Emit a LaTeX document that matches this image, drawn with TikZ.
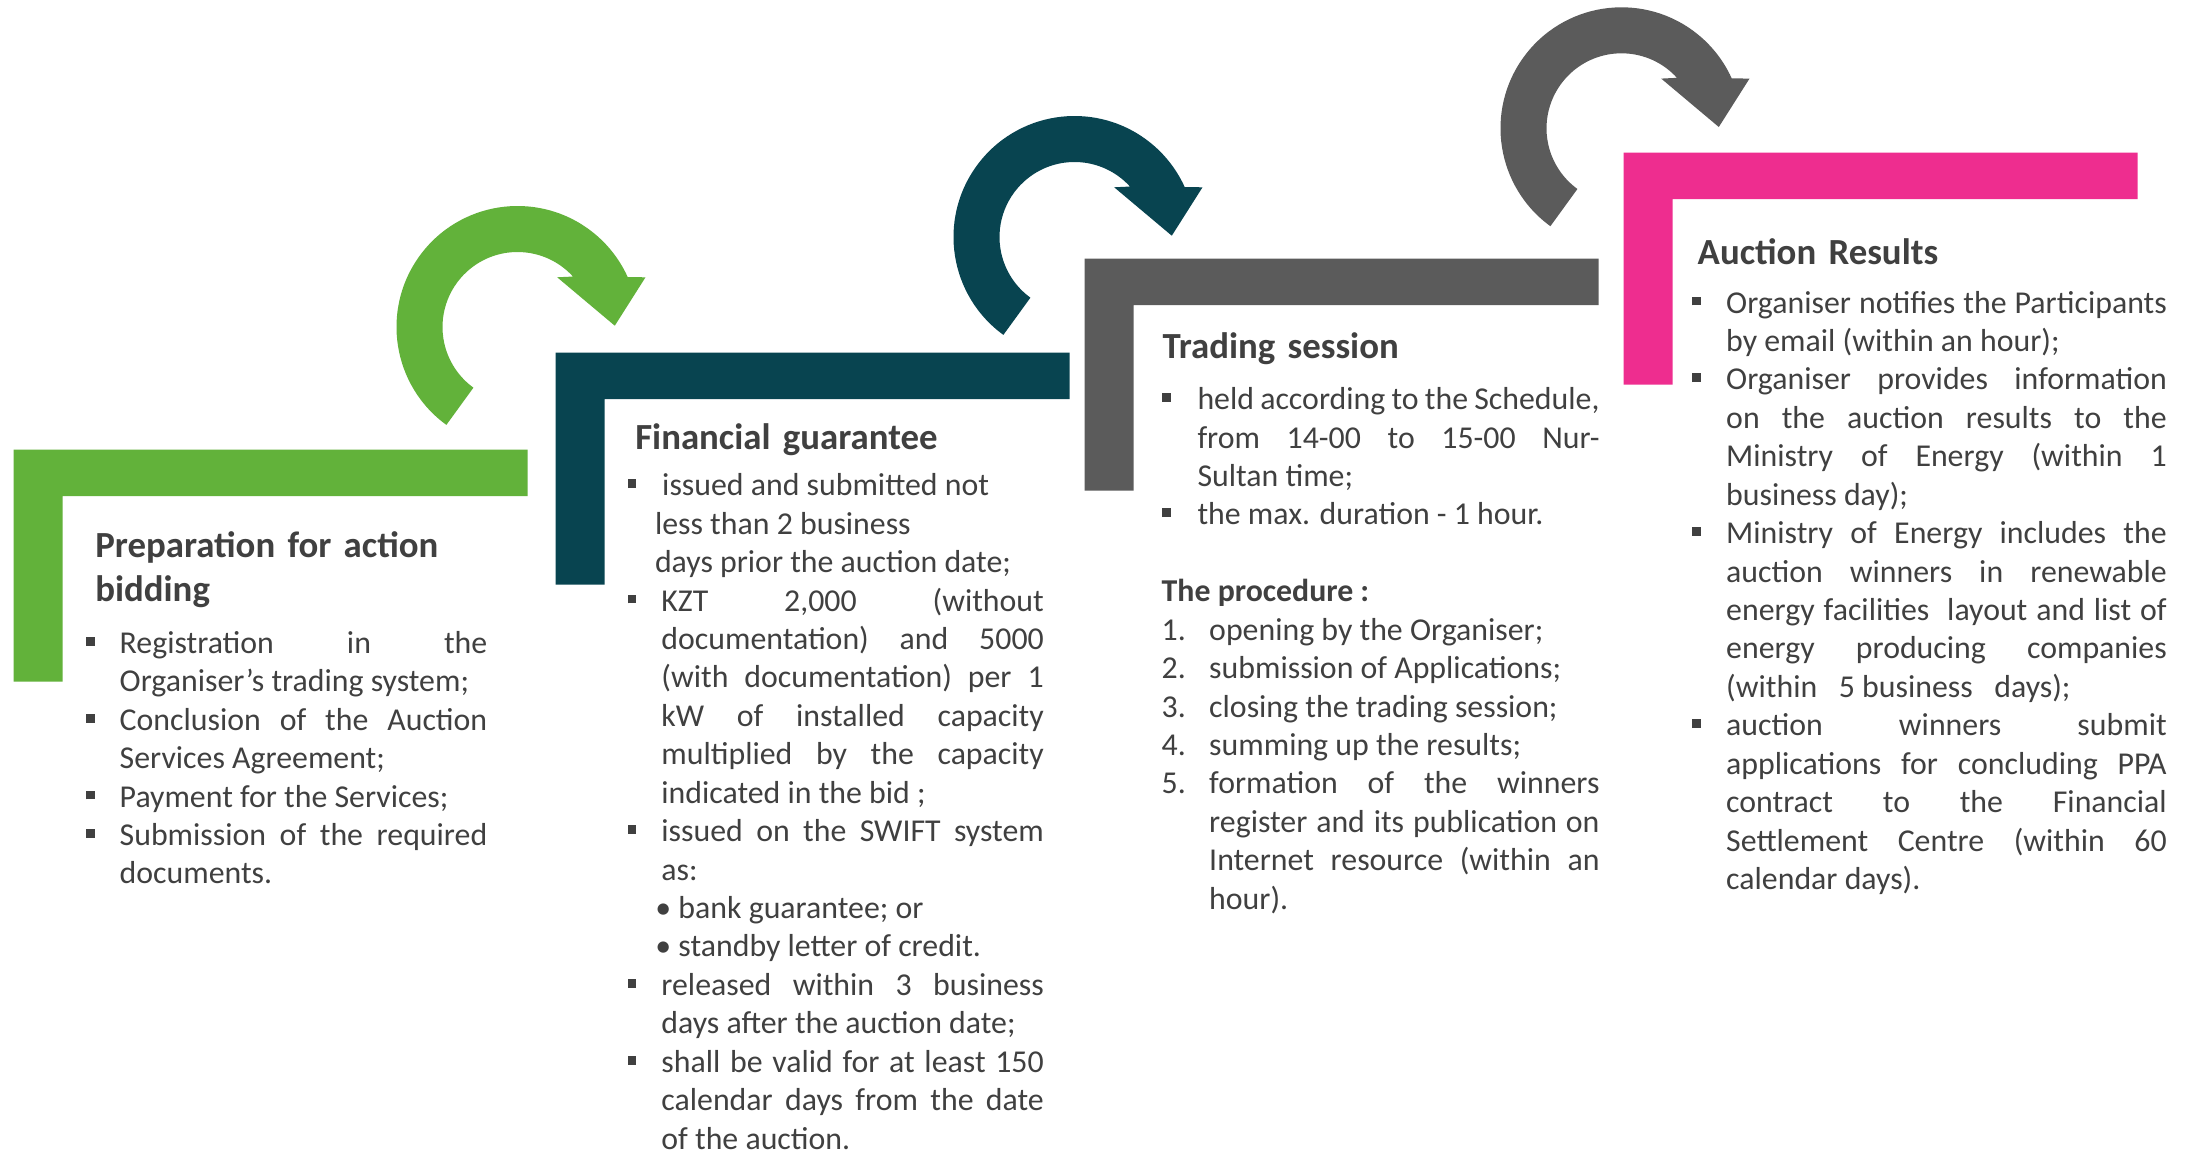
\documentclass[tikz,border=0pt]{standalone}
\usepackage{fontspec}
\setmainfont{Carlito}
\usetikzlibrary{calc}
\definecolor{stepgreen}{RGB}{98,178,58}
\definecolor{stepteal}{RGB}{8,68,80}
\definecolor{stepgrey}{RGB}{91,91,91}
\definecolor{steppink}{RGB}{238,45,143}
\definecolor{ink}{RGB}{64,64,64}
\tikzset{ heading/.style={anchor=base west,inner sep=0pt,text width=4.2cm,align=left,text=ink,font=\fontsize{10.47pt}{12.63pt}\selectfont\bfseries}, body/.style={anchor=base west,inner sep=0pt,align=justify,text=ink,font=\fontsize{9.05pt}{10.93pt}\selectfont} }
\newcommand\sqbullet{\rule[0.077cm]{0.088cm}{0.088cm}}
\newcommand\subdot{\hspace*{-0.06cm}•}
\newenvironment{steplist}[1]{%
  \begin{list}{\sqbullet}{\setlength\leftmargin{#1}\setlength\labelwidth{#1}%
    \setlength\labelsep{0pt}\setlength\itemindent{0pt}\setlength\itemsep{0pt}%
    \setlength\parsep{0pt}\setlength\topsep{0pt}\setlength\partopsep{0pt}%
    \renewcommand\makelabel[1]{##1\hfil}}}%
  {\end{list}}
\hbadness=10000
\tolerance=10000
\hyphenpenalty=10000
\def\stepbar[#1](#2);%
{
  \fill[#1] (#2) -- ++(514,0) -- ++(0,46.5) -- ++(-465,0) -- ++(0,185.5) -- ++(-49,0) -- cycle;
}
\def\turnarrow[#1](#2);%
{
  \fill[#1,shift={(#2)},yscale=-1] (234:121) arc (234:24.4:121) -- (128,49.7) -- (97.3,1.3) -- (39.7,49.7) -- (42.3:75) arc (42.3:234:75) -- cycle;
}

\begin{document}
\begin{tikzpicture}[x=0.01cm,y=-0.01cm]
  \fill[white] (0,0) rectangle (2196,1151);
  \useasboundingbox (0,0) rectangle (2196,1151);
  % corners of the steps
  \coordinate (s1) at (13.6,449.5);
  \coordinate (s2) at (555.5,352.5);
  \coordinate (s3) at (1084.5,258.5);
  \coordinate (s4) at (1623.6,152.5);
  % centres of the turning arrows
  \coordinate (t1) at (517.5,327);
  \coordinate (t2) at (1074.5,237);
  \coordinate (t3) at (1621.5,128.3);
  % steps
  \stepbar[stepgreen](s1);
  \stepbar[stepteal](s2);
  \stepbar[stepgrey](s3);
  \stepbar[steppink](s4);
  % arrows
  \turnarrow[stepgreen](t1);
  \turnarrow[stepteal](t2);
  \turnarrow[stepgrey](t3);
  % preparation (lists start one empty line low, hence -38.4)
  \node[heading] (prep) at (94.6,557.3) {Preparation for action\\bidding};
  \node[body,text width=4.007cm] (prepbody) at (85.7,653.3-38.4) {%
    \begin{steplist}{0.333cm}
    \item Registration in the\linebreak Organiser’s trading system;
    \item Conclusion of the Auction\linebreak Services Agreement;
    \item Payment for the Services;
    \item Submission of the required\linebreak documents.
    \end{steplist}};
  % financial guarantee
  \node[heading] (fin) at (634.6,449) {Financial guarantee};
  \node[body,text width=4.161cm] (finbody) at (626.8,495.7-38.4) {%
    \begin{steplist}{0.275cm}
    \item \ issued and submitted not\newline less than 2 business\newline days prior the auction date;
    \end{steplist}
    \begin{steplist}{0.339cm}
    \item KZT 2,000 (without\linebreak documentation) and 5000\linebreak (with documentation) per 1\linebreak kW of installed capacity\linebreak multiplied by the capacity\linebreak indicated in the bid ;
    \item issued on the SWIFT system\linebreak as:\newline \subdot{} bank guarantee; or\newline \subdot{} standby letter of credit.
    \item released within 3 business\linebreak days after the auction date;
    \item shall be valid for at least 150\linebreak calendar days from the date\linebreak of the auction.
    \end{steplist}};
  % trading session
  \node[heading] (trade) at (1161.8,358.3) {Trading session};
  \node[body,text width=4.376cm] (tradebody) at (1161,409.6-38.4) {%
    \begin{steplist}{0.358cm}
    \item held according to the Schedule,\linebreak from 14-00 to 15-00 Nur-\linebreak Sultan time;
    \item the max. duration - 1 hour.
    \end{steplist}
    \vspace{0.384cm}
    \textbf{The procedure :}
    \begin{steplist}{0.475cm}
    \item[1.] opening by the Organiser;
    \item[2.] submission of Applications;
    \item[3.] closing the trading session;
    \item[4.] summing up the results;
    \item[5.] formation of the winners\linebreak register and its publication on\linebreak Internet resource (within an\linebreak hour).
    \end{steplist}};
  % auction results
  \node[heading] (res) at (1697,264.3) {Auction Results};
  \node[body,text width=4.745cm] (resbody) at (1691.3,313-38.4) {%
    \begin{steplist}{0.342cm}
    \item Organiser notifies the Participants\linebreak by email (within an hour);
    \item Organiser provides information\linebreak on the auction results to the\linebreak Ministry of Energy (within 1\linebreak business day);
    \item Ministry of Energy includes the\linebreak auction winners in renewable\linebreak energy facilities\ \ layout and list of\linebreak energy producing companies\linebreak (within\ \ \ 5 business\ \ \ days);
    \item auction winners submit\linebreak applications for concluding PPA\linebreak contract to the Financial\linebreak Settlement Centre (within 60\linebreak calendar days).
    \end{steplist}};
\end{tikzpicture}
\end{document}
